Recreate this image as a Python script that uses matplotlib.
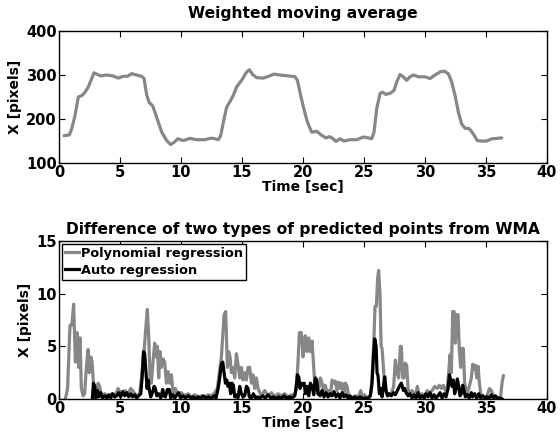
import numpy as np
import matplotlib
matplotlib.use("Agg")
import matplotlib.pyplot as plt

# === Weighted moving average (top panel) ===
wma_t = [0.41, 0.85, 1.04, 1.31, 1.58, 1.91, 2.13, 2.40, 2.68, 2.87, 3.09, 3.42, 3.90,
         4.40, 4.86, 5.27, 5.60, 5.96, 6.37, 6.78, 6.97, 7.19, 7.40, 7.68, 8.00, 8.42,
         8.83, 9.15, 9.43, 9.73, 10.19, 10.74, 11.28, 11.97, 12.38, 12.65, 13.06, 13.25,
         13.47, 13.74, 14.00, 14.29, 14.56, 14.97, 15.38, 15.60, 15.87, 16.20, 16.75,
         17.16, 17.62, 18.10, 18.80, 19.34, 19.54, 19.75, 20.03, 20.36, 20.71, 21.12,
         21.53, 21.88, 22.16, 22.43, 22.70, 23.03, 23.36, 23.85, 24.40, 24.94, 25.36,
         25.63, 25.82, 26.04, 26.31, 26.50, 26.80, 27.18, 27.46, 27.68, 27.95, 28.22,
         28.50, 28.77, 29.05, 29.46, 30.00, 30.41, 30.82, 31.23, 31.56, 31.91, 32.19,
         32.46, 32.73, 33.00, 33.28, 33.63, 33.96, 34.29, 34.64, 35.05, 35.47, 35.88, 36.29]
wma_x = [162, 164, 178, 208, 250, 254, 261, 273, 292, 305, 302, 298, 300,
         298, 293, 297, 297, 303, 300, 297, 292, 254, 237, 230, 204, 170,
         151, 142, 147, 155, 151, 156, 153, 153, 156, 156, 153, 162,
         193, 227, 239, 254, 273, 288, 307, 312, 301, 294, 293,
         297, 302, 300, 298, 296, 288, 261, 227, 193, 170, 172,
         163, 157, 160, 156, 149, 155, 150, 153, 153, 159, 157,
         155, 170, 223, 258, 261, 256, 259, 265, 284, 301, 296,
         288, 296, 300, 296, 296, 292, 300, 307, 309, 303, 284,
         254, 216, 189, 179, 178, 166, 151, 150, 150, 155, 156, 157]

# === Polynomial regression difference ===
poly_t = [0.52, 0.70, 0.90, 1.05, 1.20, 1.34, 1.48, 1.61, 1.72, 1.83, 1.97, 2.10, 2.24,
          2.38, 2.49, 2.60, 2.71, 2.82, 2.93, 3.06, 3.20, 3.33, 3.47, 3.75, 4.02, 4.29,
          4.56, 4.84, 5.12, 5.40, 5.66, 5.88, 6.15, 6.42, 6.61, 6.80, 6.97, 7.13, 7.24,
          7.35, 7.46, 7.57, 7.70, 7.84, 7.95, 8.06, 8.17, 8.28, 8.39, 8.53, 8.66, 8.80,
          8.94, 9.07, 9.21, 9.35, 9.54, 9.76, 10.03, 10.30, 10.58, 10.85, 11.12, 11.40,
          11.67, 11.94, 12.22, 12.49, 12.76, 12.98, 13.14, 13.31, 13.42, 13.53, 13.66,
          13.80, 13.91, 14.02, 14.13, 14.26, 14.40, 14.54, 14.67, 14.81, 14.95, 15.08,
          15.22, 15.36, 15.49, 15.63, 15.77, 15.90, 16.04, 16.18, 16.31, 16.59, 16.86,
          17.13, 17.41, 17.68, 17.95, 18.23, 18.50, 18.77, 19.05, 19.32, 19.48, 19.59,
          19.70, 19.86, 20.00, 20.06, 20.19, 20.33, 20.47, 20.60, 20.74, 20.88, 20.96,
          21.07, 21.23, 21.42, 21.56, 21.70, 21.83, 21.97, 22.10, 22.24, 22.38, 22.52,
          22.65, 22.79, 22.93, 23.06, 23.20, 23.34, 23.47, 23.61, 23.75, 24.02, 24.29,
          24.56, 24.73, 24.89, 25.11, 25.38, 25.55, 25.71, 25.82, 25.90, 26.01, 26.12,
          26.20, 26.31, 26.40, 26.48, 26.59, 26.70, 26.86, 27.02, 27.24, 27.43, 27.57,
          27.71, 27.84, 27.98, 28.06, 28.17, 28.28, 28.39, 28.50, 28.61, 28.72, 28.94,
          29.21, 29.37, 29.54, 29.76, 29.97, 30.17, 30.36, 30.58, 30.79, 30.99, 31.18,
          31.34, 31.50, 31.67, 31.83, 31.94, 32.05, 32.16, 32.27, 32.38, 32.49, 32.60,
          32.71, 32.82, 32.92, 33.03, 33.14, 33.25, 33.36, 33.47, 33.63, 33.80, 33.91,
          34.02, 34.13, 34.24, 34.35, 34.46, 34.56, 34.73, 34.89, 35.08, 35.28, 35.44,
          35.60, 35.82, 36.04, 36.18, 36.31, 36.42]
poly_x = [0.0, 1.0, 7.0, 7.0, 9.0, 3.5, 6.3, 3.0, 5.8, 1.0, 0.3, 0.5, 3.0,
          4.7, 2.5, 4.0, 3.5, 1.5, 1.0, 0.3, 1.5, 1.2, 0.3, 0.5, 0.2, 0.5,
          0.2, 1.0, 0.4, 0.8, 0.5, 1.0, 0.6, 0.3, 0.5, 2.5, 4.5, 7.0, 8.5,
          6.0, 2.0, 1.5, 3.5, 5.3, 4.0, 5.0, 2.0, 4.5, 3.0, 3.8, 3.5, 1.5,
          2.6, 1.5, 2.3, 0.5, 1.0, 0.3, 0.6, 0.3, 0.5, 0.2, 0.4, 0.2,
          0.3, 0.1, 0.4, 0.3, 0.6, 1.0, 2.5, 4.0, 6.0, 8.0, 8.3,
          3.0, 4.5, 4.0, 2.5, 3.0, 2.0, 4.3, 3.3, 2.0, 3.0, 1.8,
          2.5, 1.8, 3.0, 3.0, 1.5, 2.3, 1.0, 2.0, 1.0, 0.3, 0.8,
          0.3, 0.6, 0.2, 0.5, 0.3, 0.5, 0.2, 0.4, 0.3, 1.5, 3.5,
          6.3, 6.3, 4.0, 5.0, 6.0, 4.5, 5.8, 4.5, 5.5, 3.0, 1.5,
          1.0, 0.5, 2.0, 1.5, 0.8, 1.3, 0.5, 0.8, 0.3, 1.8, 1.5,
          1.7, 0.8, 1.6, 1.0, 1.5, 0.3, 1.5, 1.2, 0.2, 0.1, 0.3,
          0.2, 0.8, 0.2, 0.3, 0.1, 0.5, 3.0, 6.0, 8.8, 8.8, 11.5,
          12.2, 10.0, 5.0, 4.8, 3.0, 1.0, 0.5, 0.3, 0.5, 1.2, 3.7,
          2.5, 2.0, 5.0, 5.0, 2.0, 2.0, 3.4, 3.2, 1.0, 0.5, 0.8,
          0.3, 1.2, 0.3, 0.5, 0.3, 0.8, 0.5, 0.8, 1.2, 1.0, 1.3,
          1.0, 1.3, 0.8, 1.0, 2.5, 4.2, 2.5, 8.3, 8.3, 5.3, 8.0,
          8.0, 4.5, 3.0, 4.8, 4.8, 1.5, 1.0, 0.5, 1.2, 2.0, 3.3,
          2.8, 3.2, 2.0, 3.1, 1.5, 0.5, 0.3, 0.2, 0.3, 1.0, 0.8,
          0.3, 0.2, 0.1, 0.0, 1.5, 2.2]

# === Auto regression difference ===
ar_t = [2.73, 2.82, 2.93, 3.01, 3.14, 3.25, 3.42, 3.56, 3.75, 3.91, 4.07, 4.23, 4.40,
        4.56, 4.73, 4.89, 5.05, 5.22, 5.38, 5.55, 5.71, 5.88, 6.04, 6.20, 6.37, 6.53,
        6.70, 6.81, 6.92, 7.02, 7.13, 7.22, 7.30, 7.41, 7.52, 7.66, 7.79, 7.90, 8.01,
        8.17, 8.34, 8.50, 8.61, 8.72, 8.88, 9.04, 9.15, 9.32, 9.48, 9.65, 9.81, 9.97,
        10.17, 10.36, 10.58, 10.80, 10.99, 11.18, 11.40, 11.61, 11.83, 12.05, 12.27,
        12.49, 12.71, 12.87, 13.04, 13.17, 13.31, 13.42, 13.53, 13.64, 13.75, 13.85,
        13.96, 14.07, 14.18, 14.29, 14.40, 14.51, 14.67, 14.81, 14.95, 15.08, 15.22,
        15.36, 15.49, 15.60, 15.77, 15.93, 16.10, 16.26, 16.48, 16.70, 16.91, 17.13,
        17.35, 17.57, 17.79, 18.01, 18.23, 18.45, 18.67, 18.88, 19.10, 19.32, 19.43,
        19.54, 19.65, 19.76, 19.86, 20.00, 20.10, 20.19, 20.33, 20.47, 20.60, 20.74,
        20.88, 21.01, 21.12, 21.23, 21.40, 21.56, 21.72, 21.89, 22.05, 22.22, 22.38,
        22.54, 22.70, 22.87, 23.03, 23.20, 23.36, 23.53, 23.69, 23.85, 24.02, 24.24,
        24.45, 24.67, 24.89, 25.11, 25.33, 25.52, 25.66, 25.77, 25.88, 25.99, 26.07,
        26.15, 26.26, 26.37, 26.48, 26.59, 26.70, 26.81, 26.92, 27.08, 27.24, 27.41,
        27.57, 27.73, 27.90, 28.06, 28.23, 28.34, 28.45, 28.61, 28.77, 28.94, 29.10,
        29.26, 29.43, 29.59, 29.76, 29.92, 30.08, 30.25, 30.41, 30.58, 30.74, 30.90,
        31.07, 31.23, 31.40, 31.56, 31.72, 31.89, 32.00, 32.11, 32.21, 32.32, 32.43,
        32.54, 32.65, 32.76, 32.87, 32.98, 33.09, 33.20, 33.31, 33.47, 33.63, 33.80,
        33.91, 34.07, 34.24, 34.40, 34.56, 34.73, 34.89, 35.08, 35.26, 35.44, 35.60,
        35.77, 35.93, 36.10, 36.31]
ar_x = [0.0, 1.5, 1.2, 0.1, 0.8, 0.2, 0.6, 0.1, 0.3, 0.1, 0.4, 0.1, 0.5,
        0.2, 0.3, 0.6, 0.2, 0.7, 0.3, 0.6, 0.2, 0.5, 0.2, 0.4, 0.1, 0.3,
        0.5, 2.0, 4.5, 4.3, 2.5, 1.0, 1.8, 0.8, 0.2, 0.6, 1.2, 1.0, 0.3,
        0.5, 0.1, 0.9, 0.3, 0.2, 0.9, 0.9, 0.1, 0.4, 0.1, 0.4, 0.6, 0.1,
        0.3, 0.1, 0.3, 0.1, 0.2, 0.05, 0.2, 0.05, 0.3, 0.1, 0.2,
        0.05, 0.3, 0.1, 1.0, 2.0, 3.3, 3.5, 2.5, 1.5, 1.8, 1.2,
        1.5, 0.5, 1.5, 1.3, 0.2, 0.4, 0.1, 1.2, 0.5, 0.2, 0.3,
        1.2, 1.0, 0.2, 0.1, 0.5, 0.1, 0.2, 0.1, 0.3, 0.1, 0.4,
        0.1, 0.2, 0.05, 0.2, 0.05, 0.3, 0.05, 0.2, 0.1, 0.3, 1.0,
        2.3, 2.1, 1.0, 1.5, 1.3, 1.5, 0.5, 1.2, 0.3, 1.5, 1.2,
        0.4, 2.0, 1.8, 0.5, 0.3, 0.8, 0.2, 0.6, 0.2, 0.5, 0.3,
        0.7, 0.2, 0.5, 0.1, 0.6, 0.2, 0.4, 0.1, 0.3, 0.05, 0.2,
        0.05, 0.2, 0.05, 0.1, 0.05, 0.3, 1.5, 4.0, 5.7, 5.0, 2.5,
        2.2, 0.5, 1.0, 0.2, 1.2, 2.1, 0.8, 0.3, 0.5, 0.3, 0.6,
        0.4, 0.8, 1.2, 1.5, 0.8, 1.0, 0.6, 0.3, 0.5, 0.1, 0.4,
        0.1, 0.6, 0.1, 0.3, 0.1, 0.5, 0.2, 0.6, 0.1, 0.4, 0.1,
        0.3, 0.6, 0.1, 0.5, 0.2, 1.0, 2.3, 1.8, 1.2, 1.8, 0.5,
        1.0, 1.9, 1.2, 0.3, 0.5, 1.3, 0.8, 0.2, 0.4, 0.1, 0.6,
        0.2, 0.5, 0.1, 0.5, 0.1, 0.3, 0.1, 0.2, 0.05, 0.4, 0.1,
        0.3, 0.05, 0.1, 0.0]

GRAY = "#878787"
TICK_FS = 10.5
LABEL_FS = 10.0
TITLE_FS = 11.2
LEGEND_FS = 9.3


def style_axes(ax):
    ax.tick_params(direction="in", top=True, right=True, length=4, width=0.8,
                   labelsize=TICK_FS, pad=1.5, colors="black")
    for lab in ax.get_xticklabels() + ax.get_yticklabels():
        lab.set_fontweight("bold")
    for sp in ax.spines.values():
        sp.set_linewidth(1.0)
        sp.set_color("black")


def main() -> None:
    plt.rcParams["font.family"] = ["DejaVu Sans"]
    plt.rcParams["font.weight"] = "bold"
    fig = plt.figure(figsize=(5.6, 4.36), dpi=100)

    # --- oberer Plot ---
    ax1 = fig.add_axes([0.1054, 0.6261, 0.8714, 0.3028])
    ax1.plot(wma_t, wma_x, color=GRAY, lw=2.3, solid_capstyle="round")
    ax1.set_xlim(0, 40)
    ax1.set_ylim(100, 400)
    ax1.set_xticks(range(0, 41, 5))
    ax1.set_yticks([100, 200, 300, 400])
    ax1.set_title("Weighted moving average", fontsize=TITLE_FS, fontweight="bold", pad=9)
    ax1.set_xlabel("Time [sec]", fontsize=LABEL_FS, fontweight="bold", labelpad=0)
    ax1.set_ylabel("X [pixels]", fontsize=LABEL_FS, fontweight="bold", labelpad=3)
    style_axes(ax1)

    # --- unterer Plot ---
    ax2 = fig.add_axes([0.1054, 0.0849, 0.8714, 0.3624])
    ax2.plot(poly_t, poly_x, color=GRAY, lw=2.3, label="Polynomial regression")
    ax2.plot(ar_t, ar_x, color="black", lw=2.3, label="Auto regression")
    ax2.set_xlim(0, 40)
    ax2.set_ylim(0, 15)
    ax2.set_xticks(range(0, 41, 5))
    ax2.set_yticks([0, 5, 10, 15])
    ax2.set_title("Difference of two types of predicted points from WMA",
                  fontsize=TITLE_FS, fontweight="bold", pad=5)
    ax2.set_xlabel("Time [sec]", fontsize=LABEL_FS, fontweight="bold", labelpad=0)
    ax2.set_ylabel("X [pixels]", fontsize=LABEL_FS, fontweight="bold", labelpad=3)
    style_axes(ax2)

    leg = ax2.legend(loc="upper left", frameon=True, fancybox=False,
                     borderaxespad=0.2, handlelength=1.1, handletextpad=0.15,
                     borderpad=0.25, labelspacing=0.3,
                     prop={"weight": "bold", "size": LEGEND_FS})
    leg.get_frame().set_edgecolor("black")
    leg.get_frame().set_linewidth(1.0)
    leg.get_frame().set_alpha(1.0)

    fig.savefig("out.png", dpi=100)


if __name__ == "__main__":
    main()
